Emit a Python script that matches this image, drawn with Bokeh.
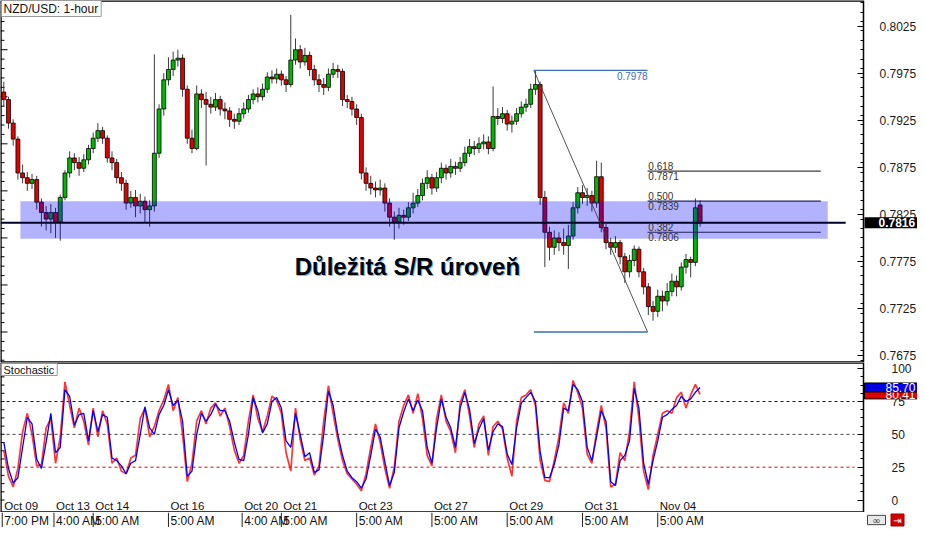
import numpy as np
from bokeh.plotting import figure
from bokeh.layouts import column
from bokeh.models import Range1d, FixedTicker, Label, NumeralTickFormatter, LinearAxis
from bokeh.embed import file_html
from bokeh.resources import INLINE
from bokeh.core.properties import value

# ---------------- data ----------------
symbol_title = "NZD/USD: 1-hour"
stoch_title = "Stochastic"
annotation_text = "Důležitá S/R úroveň"

# one candle per 3 hourly bars; x = hourly bar index
candle_bar = list(range(1, 447, 3))

opens = [0.7955, 0.7947, 0.7922, 0.7905, 0.7869, 0.7864, 0.7858, 0.7862, 0.7838, 0.7827,
         0.7820, 0.7827, 0.7817, 0.7843, 0.7869, 0.7885, 0.7880, 0.7874, 0.7883, 0.7895,
         0.7906, 0.7914, 0.7906, 0.7885, 0.7880, 0.7864, 0.7858, 0.7837, 0.7843, 0.7834,
         0.7839, 0.7830, 0.7834, 0.7890, 0.7937, 0.7968, 0.7979, 0.7989, 0.7991, 0.7958,
         0.7906, 0.7895, 0.7953, 0.7947, 0.7942, 0.7939, 0.7947, 0.7937, 0.7935, 0.7926,
         0.7924, 0.7932, 0.7937, 0.7947, 0.7953, 0.7950, 0.7958, 0.7971, 0.7969, 0.7974,
         0.7968, 0.7963, 0.7989, 0.8000, 0.7987, 0.7994, 0.7979, 0.7968, 0.7963, 0.7960,
         0.7974, 0.7979, 0.7977, 0.7947, 0.7945, 0.7937, 0.7928, 0.7869, 0.7858, 0.7853,
         0.7851, 0.7853, 0.7837, 0.7822, 0.7817, 0.7824, 0.7822, 0.7832, 0.7837, 0.7845,
         0.7858, 0.7864, 0.7853, 0.7864, 0.7874, 0.7869, 0.7876, 0.7874, 0.7880, 0.7890,
         0.7897, 0.7895, 0.7900, 0.7902, 0.7895, 0.7929, 0.7927, 0.7932, 0.7921, 0.7924,
         0.7932, 0.7939, 0.7942, 0.7958, 0.7963, 0.7843, 0.7806, 0.7790, 0.7800, 0.7795,
         0.7792, 0.7802, 0.7832, 0.7848, 0.7843, 0.7845, 0.7837, 0.7865, 0.7811, 0.7795,
         0.7790, 0.7795, 0.7780, 0.7764, 0.7776, 0.7788, 0.7764, 0.7748, 0.7727, 0.7722,
         0.7738, 0.7733, 0.7743, 0.7754, 0.7748, 0.7769, 0.7777, 0.7774, 0.7835]

closes = [0.7947, 0.7922, 0.7905, 0.7869, 0.7864, 0.7858, 0.7862, 0.7838, 0.7827, 0.7820,
          0.7827, 0.7817, 0.7843, 0.7869, 0.7885, 0.7880, 0.7874, 0.7883, 0.7895, 0.7906,
          0.7914, 0.7906, 0.7885, 0.7880, 0.7864, 0.7858, 0.7837, 0.7843, 0.7834, 0.7839,
          0.7830, 0.7834, 0.7890, 0.7937, 0.7968, 0.7979, 0.7989, 0.7991, 0.7958, 0.7906,
          0.7895, 0.7953, 0.7947, 0.7942, 0.7939, 0.7947, 0.7937, 0.7935, 0.7926, 0.7924,
          0.7932, 0.7937, 0.7947, 0.7953, 0.7950, 0.7958, 0.7971, 0.7969, 0.7974, 0.7968,
          0.7963, 0.7989, 0.8000, 0.7987, 0.7994, 0.7979, 0.7968, 0.7963, 0.7960, 0.7974,
          0.7979, 0.7977, 0.7947, 0.7945, 0.7937, 0.7928, 0.7869, 0.7858, 0.7853, 0.7851,
          0.7853, 0.7837, 0.7822, 0.7817, 0.7824, 0.7822, 0.7832, 0.7837, 0.7845, 0.7858,
          0.7864, 0.7853, 0.7864, 0.7874, 0.7869, 0.7876, 0.7874, 0.7880, 0.7890, 0.7897,
          0.7895, 0.7900, 0.7902, 0.7895, 0.7929, 0.7927, 0.7932, 0.7921, 0.7924, 0.7932,
          0.7939, 0.7942, 0.7958, 0.7963, 0.7843, 0.7806, 0.7790, 0.7800, 0.7795, 0.7792,
          0.7802, 0.7832, 0.7848, 0.7843, 0.7845, 0.7837, 0.7865, 0.7811, 0.7795, 0.7790,
          0.7795, 0.7780, 0.7764, 0.7776, 0.7788, 0.7764, 0.7748, 0.7727, 0.7722, 0.7738,
          0.7733, 0.7743, 0.7754, 0.7748, 0.7769, 0.7777, 0.7774, 0.7832, 0.7816]

highs = [0.7966, 0.7950, 0.7926, 0.7908, 0.7878, 0.7870, 0.7868, 0.7866, 0.7842, 0.7834,
         0.7836, 0.7832, 0.7846, 0.7872, 0.7892, 0.7890, 0.7886, 0.7889, 0.7899, 0.7912,
         0.7922, 0.7918, 0.7909, 0.7892, 0.7884, 0.7870, 0.7862, 0.7850, 0.7851, 0.7847,
         0.7844, 0.7840, 0.7995, 0.7942, 0.7975, 0.7992, 0.7998, 0.8000, 0.7995, 0.7962,
         0.7915, 0.7962, 0.7958, 0.7955, 0.7950, 0.7954, 0.7951, 0.7944, 0.7939, 0.7932,
         0.7938, 0.7944, 0.7952, 0.7958, 0.7960, 0.7964, 0.7976, 0.7978, 0.7980, 0.7978,
         0.7972, 0.8037, 0.8012, 0.8005, 0.8002, 0.7998, 0.7984, 0.7974, 0.7970, 0.7980,
         0.7986, 0.7984, 0.7980, 0.7952, 0.7950, 0.7942, 0.7932, 0.7875, 0.7866, 0.7860,
         0.7862, 0.7858, 0.7842, 0.7828, 0.7832, 0.7830, 0.7838, 0.7848, 0.7852, 0.7863,
         0.7872, 0.7868, 0.7870, 0.7880, 0.7878, 0.7884, 0.7881, 0.7886, 0.7897, 0.7905,
         0.7903, 0.7907, 0.7910, 0.7908, 0.7961, 0.7938, 0.7939, 0.7936, 0.7930, 0.7938,
         0.7945, 0.7948, 0.7964, 0.7978, 0.7966, 0.7850, 0.7812, 0.7808, 0.7806, 0.7810,
         0.7814, 0.7838, 0.7854, 0.7856, 0.7853, 0.7850, 0.7882, 0.7880, 0.7815, 0.7800,
         0.7802, 0.7798, 0.7784, 0.7782, 0.7792, 0.7791, 0.7768, 0.7752, 0.7733, 0.7745,
         0.7744, 0.7752, 0.7762, 0.7760, 0.7774, 0.7783, 0.7780, 0.7842, 0.7840]

lows = [0.7940, 0.7916, 0.7898, 0.7862, 0.7858, 0.7850, 0.7852, 0.7830, 0.7812, 0.7808,
        0.7805, 0.7800, 0.7797, 0.7840, 0.7864, 0.7872, 0.7866, 0.7870, 0.7878, 0.7890,
        0.7902, 0.7900, 0.7880, 0.7872, 0.7858, 0.7850, 0.7830, 0.7832, 0.7822, 0.7826,
        0.7816, 0.7812, 0.7828, 0.7885, 0.7930, 0.7962, 0.7972, 0.7982, 0.7950, 0.7900,
        0.7890, 0.7893, 0.7938, 0.7877, 0.7932, 0.7935, 0.7930, 0.7926, 0.7918, 0.7916,
        0.7920, 0.7927, 0.7933, 0.7942, 0.7944, 0.7946, 0.7954, 0.7964, 0.7964, 0.7962,
        0.7955, 0.7960, 0.7984, 0.7980, 0.7983, 0.7972, 0.7962, 0.7955, 0.7952, 0.7956,
        0.7970, 0.7970, 0.7940, 0.7938, 0.7930, 0.7920, 0.7862, 0.7850, 0.7846, 0.7843,
        0.7845, 0.7828, 0.7812, 0.7798, 0.7810, 0.7814, 0.7818, 0.7826, 0.7833, 0.7840,
        0.7852, 0.7846, 0.7849, 0.7858, 0.7862, 0.7864, 0.7867, 0.7870, 0.7876, 0.7886,
        0.7888, 0.7890, 0.7894, 0.7889, 0.7892, 0.7920, 0.7922, 0.7914, 0.7912, 0.7920,
        0.7928, 0.7934, 0.7938, 0.7952, 0.7835, 0.7769, 0.7776, 0.7782, 0.7786, 0.7782,
        0.7767, 0.7798, 0.7826, 0.7836, 0.7834, 0.7828, 0.7832, 0.7806, 0.7788, 0.7782,
        0.7784, 0.7772, 0.7752, 0.7758, 0.7770, 0.7758, 0.7740, 0.7718, 0.7712, 0.7716,
        0.7722, 0.7728, 0.7738, 0.7738, 0.7744, 0.7762, 0.7758, 0.7770, 0.7812]

# stochastic %K (red) and %D (blue), one value per candle
stoch_k = [38, 18, 10, 24, 52, 66, 50, 26, 27, 55, 62, 28, 48, 90, 72, 55, 70, 60, 42, 70,
           48, 68, 58, 28, 32, 22, 20, 32, 34, 62, 70, 48, 56, 68, 76, 88, 68, 78, 50, 14,
           28, 60, 68, 58, 70, 74, 64, 70, 56, 38, 28, 34, 60, 80, 62, 52, 64, 79, 76, 66,
           36, 22, 70, 46, 30, 32, 19, 26, 60, 87, 66, 46, 30, 20, 16, 12, 7, 20, 40, 58,
           44, 24, 9, 25, 60, 72, 80, 66, 81, 62, 34, 26, 62, 80, 60, 52, 36, 74, 84, 64,
           40, 58, 64, 34, 56, 60, 54, 32, 18, 60, 78, 80, 84, 72, 30, 15, 14, 30, 48, 74,
           66, 91, 82, 70, 35, 28, 52, 72, 55, 10, 12, 36, 30, 52, 90, 62, 22, 8, 34, 50,
           66, 68, 66, 78, 82, 70, 80, 88, 80.41]
stoch_d = [44, 24, 13, 17, 40, 63, 58, 31, 24, 44, 66, 36, 40, 84, 79, 57, 65, 66, 45, 68,
           52, 65, 63, 32, 30, 26, 20, 28, 30, 50, 71, 55, 50, 65, 72, 84, 72, 76, 60, 18,
           22, 50, 66, 60, 65, 73, 68, 68, 60, 44, 31, 30, 50, 78, 68, 51, 58, 75, 78, 70,
           45, 40, 66, 50, 33, 36, 21, 23, 50, 83, 72, 50, 34, 22, 17, 14, 9, 16, 34, 54,
           48, 29, 11, 21, 55, 67, 77, 68, 76, 68, 40, 28, 55, 77, 63, 55, 40, 70, 82, 69,
           43, 54, 62, 38, 52, 58, 56, 35, 27, 55, 74, 78, 82, 75, 37, 17, 17, 27, 42, 70,
           68, 88, 84, 75, 40, 30, 48, 68, 60, 14, 11, 30, 34, 45, 85, 70, 28, 12, 30, 45,
           63, 65, 69, 72, 79, 75, 77, 82, 85.70]
stoch_levels = [25, 50, 75]

# S/R zone and Fibonacci retracement
sr_zone = [0.7799, 0.7839]
fib_high = 0.7978
fib_low = 0.7700
fib_ratio_labels = ["0.382", "0.500", "0.618"]
fib_price_labels = ["0.7806", "0.7839", "0.7871"]
fib_prices = [0.7806, 0.7839, 0.7871]

# axis ticks
price_ticks = [0.7675, 0.7725, 0.7775, 0.7825, 0.7875, 0.7925, 0.7975, 0.8025]
stoch_ticks = [0, 25, 50, 75, 100]
tick_bars = [0, 33, 58, 106, 153, 178, 226, 274, 322, 370, 418]
date_labels = ["Oct 09", "Oct 13", "Oct 14", "Oct 16", "Oct 20", "Oct 21",
               "Oct 23", "Oct 27", "Oct 29", "Oct 31", "Nov 04"]
time_labels = ["7:00 PM", "4:00 AM", "5:00 AM", "5:00 AM", "4:00 AM", "5:00 AM",
               "5:00 AM", "5:00 AM", "5:00 AM", "5:00 AM", "5:00 AM"]

# ---------------- layout ----------------
FONT = "Liberation Sans"
W = 917
RB = 54            # width of the price-scale strip on the right
FW = W - RB        # width of the chart area
X0, X1 = -1.1, 549.2
BPX = (X1 - X0) / FW          # bars per pixel
XE = X0 + W * BPX             # right end of the full-width frame
PY0, PY1 = 0.76676, 0.80523
SY0, SY1 = -9.5, 104.7
H_TOP, H_STO, H_TIME = 362, 150, 15


def make_fig(h, yr):
    f = figure(width=W, height=h, x_range=Range1d(X0, XE), y_range=yr,
               output_backend="svg", toolbar_location=None,
               x_axis_location=None, y_axis_location=None,
               min_border_left=0, min_border_right=0,
               min_border_top=0, min_border_bottom=0)
    f.xgrid.visible = False
    f.ygrid.visible = False
    f.background_fill_color = "white"
    f.border_fill_color = "white"
    f.outline_line_color = None
    return f


def price_scale(f, ticks, minor, fmt=None, standoff=15):
    a = LinearAxis(fixed_location=X1, ticker=FixedTicker(ticks=ticks, minor_ticks=minor))
    if fmt:
        a.formatter = NumeralTickFormatter(format=fmt)
    a.major_tick_in = 6
    a.major_tick_out = 0
    a.minor_tick_in = 3
    a.minor_tick_out = 0
    a.axis_line_color = "black"
    a.axis_line_width = 1.5
    a.major_tick_line_color = "black"
    a.minor_tick_line_color = "black"
    a.major_label_standoff = standoff
    a.major_label_text_font = FONT
    a.major_label_text_font_size = "12px"
    a.major_label_text_color = "#1a1a1a"
    f.add_layout(a, "right")
    return a


def frame_border(f, y0, y1):
    f.segment(x0=[X0, X0, X0], x1=[X1, X0, X1], y0=[y0, y0, y1], y1=[y0, y1, y1],
              line_color="black", line_width=2.5)


# padding tuples below are (left, right, top, bottom)

# ---------------- price panel ----------------
p = make_fig(H_TOP, Range1d(PY0, PY1))
price_minor = [round(0.767 + 0.001 * i, 3) for i in range(39)]
price_scale(p, price_ticks, price_minor, fmt="0.0000", standoff=16)

# left edge ticks
lt_len = [7 * BPX if round(v * 1000) % 5 == 0 else 4 * BPX for v in price_minor]
p.segment(x0=[X0] * len(price_minor), x1=[X0 + l for l in lt_len], y0=price_minor,
          y1=price_minor, line_color="black", line_width=1)

o = np.array(opens)
c = np.array(closes)
up = c >= o
body_top = np.maximum(o, c)
body_bot = np.minimum(o, c)
colors = np.where(up, "#00b800", "#e00000")

p.segment(x0=candle_bar, x1=candle_bar, y0=lows, y1=highs, line_color="#3c3c3c", line_width=1)
p.vbar(x=candle_bar, width=2.5, top=body_top, bottom=body_bot, fill_color=list(colors),
       line_color="black", line_width=0.8)

# S/R zone (translucent, drawn over candles)
p.quad(left=[11.6], right=[526.4], bottom=[sr_zone[0]], top=[sr_zone[1]],
       fill_color="#0000ff", fill_alpha=0.3, line_color=None)

# current price line
p.segment(x0=[X0], x1=[537.8], y0=[closes[-1]], y1=[closes[-1]], line_color="#000028", line_width=2)

# Fibonacci
fx0, fx1, fx2 = 339.0, 411.5, 522.0
p.segment(x0=[fx0], y0=[fib_high], x1=[fx1], y1=[fib_low], line_color="#404040", line_width=0.9)
p.segment(x0=[fx0, fx0], x1=[fx1, fx1], y0=[fib_high, fib_low], y1=[fib_high, fib_low],
          line_color="#3a6db5", line_width=1.3)
p.text(x=[fx1], y=[fib_high], text=["0.7978"], text_font=value(FONT), text_font_size="10px",
       text_color="#3a6db5", text_align="right", text_baseline="top", y_offset=2)
p.segment(x0=[fx1] * 3, x1=[fx2] * 3, y0=fib_prices, y1=fib_prices,
          line_color=["#202060", "#202060", "#404040"], line_width=1.2)
p.text(x=[fx1 + 0.5] * 3, y=fib_prices, text=fib_ratio_labels, text_font=value(FONT),
       text_font_size="10px", text_color="#333333", text_align="left",
       text_baseline="bottom", y_offset=-1)
p.text(x=[fx1 + 0.5] * 3, y=fib_prices, text=fib_price_labels, text_font=value(FONT),
       text_font_size="10px", text_color="#333333", text_align="left",
       text_baseline="top", y_offset=1)

# annotation text with faint blue shadow
p.text(x=[186.5], y=[0.77693], text=[annotation_text], text_font=value(FONT),
       text_font_size="24px", text_font_style="bold", text_color="#7fb0e8",
       text_align="left", text_baseline="middle", x_offset=1, y_offset=1)
p.text(x=[186.5], y=[0.77693], text=[annotation_text], text_font=value(FONT),
       text_font_size="24px", text_font_style="bold", text_color="black",
       text_align="left", text_baseline="middle")

frame_border(p, PY0, PY1)

p.add_layout(Label(x=X0, y=PY1, text=symbol_title, text_font=FONT, text_font_size="12px",
                   text_color="#111111", text_align="left", text_baseline="top",
                   x_offset=1, y_offset=0, background_fill_color="white",
                   border_line_color="#999999", padding=(2, 3, 1, 1)))
p.add_layout(Label(x=X1, y=closes[-1], text="%.4f" % closes[-1], text_font=FONT,
                   text_font_size="12px", text_font_style="bold", text_color="white",
                   text_align="left", text_baseline="middle", x_offset=1,
                   background_fill_color="black", padding=(14, 2, 1, 1)))

# ---------------- stochastic panel ----------------
s = make_fig(H_STO, Range1d(SY0, SY1))
stoch_minor = [6.25 * i for i in range(17)]
price_scale(s, stoch_ticks, stoch_minor, standoff=28)

s.segment(x0=[X0] * len(stoch_minor), x1=[X0 + 4 * BPX] * len(stoch_minor), y0=stoch_minor,
          y1=stoch_minor, line_color="black", line_width=1)

s.segment(x0=[X0] * 3, x1=[543.5] * 3, y0=stoch_levels, y1=stoch_levels,
          line_color=["#e00000", "#404040", "#0000d0"], line_dash="3 3", line_width=1)
s.line(candle_bar, stoch_k, line_color="#ff1010", line_width=1.7, line_alpha=0.85)
s.line(candle_bar, stoch_d, line_color="#0000ff", line_width=1.3)

s.text(x=tick_bars, y=[-4.6] * len(tick_bars), text=date_labels, text_font=value(FONT),
       text_font_size="11.5px", text_color="#111111", text_align="left",
       text_baseline="middle", x_offset=2)

frame_border(s, SY0, SY1)

s.add_layout(Label(x=X0, y=SY1, text=stoch_title, text_font=FONT, text_font_size="11px",
                   text_color="#111111", text_align="left", text_baseline="top",
                   x_offset=1, y_offset=-1, background_fill_color="white",
                   border_line_color="#999999", padding=(2, 3, 0, 0)))
s.add_layout(Label(x=X1, y=stoch_k[-1], text="%.2f" % stoch_k[-1], text_font=FONT,
                   text_font_size="12px", text_color="white", text_align="left",
                   text_baseline="middle", x_offset=1, background_fill_color="#e00000",
                   border_line_color="black", padding=(21, 2, 0, 0)))
s.add_layout(Label(x=X1, y=stoch_d[-1], text="%.2f" % stoch_d[-1], text_font=FONT,
                   text_font_size="12px", text_color="white", text_align="left",
                   text_baseline="middle", x_offset=1, background_fill_color="#0000e0",
                   border_line_color="black", padding=(21, 2, 0, 0)))

# ---------------- time row ----------------
t = make_fig(H_TIME, Range1d(0, 1))
t.segment(x0=tick_bars, x1=tick_bars, y0=[0] * len(tick_bars), y1=[1] * len(tick_bars),
          line_color="#222222", line_width=1)
t.text(x=tick_bars, y=[0.45] * len(tick_bars), text=time_labels, text_font=value(FONT),
       text_font_size="12px", text_color="#111111", text_align="left",
       text_baseline="middle", x_offset=2)
# small toolbar icons at the lower right
ic1 = X1 + 13 * BPX
ic2 = X1 + 34 * BPX
t.rect(x=[ic1], y=[0.5], width=18 * BPX, height=0.62, fill_color="#e8e8e8",
       line_color="#444444", line_width=1)
t.text(x=[ic1], y=[0.5], text=["∞"], text_font=value("DejaVu Sans"), text_font_size="10px",
       text_color="#333333", text_align="center", text_baseline="middle")
t.rect(x=[ic2], y=[0.5], width=13 * BPX, height=0.8, fill_color="#d00000",
       line_color="#a00000", line_width=1)
t.text(x=[ic2], y=[0.5], text=["⇥"], text_font=value("DejaVu Sans"), text_font_size="10px",
       text_color="white", text_align="center", text_baseline="middle")

layout = column(p, s, t, spacing=0)
open("out.html", "w").write(file_html(layout, INLINE))
